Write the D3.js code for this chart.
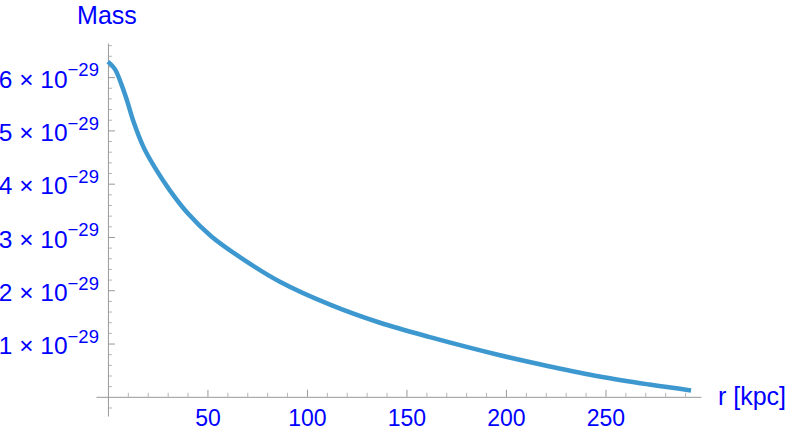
<!DOCTYPE html>
<html>
<head>
<meta charset="utf-8">
<script src="https://cdn.jsdelivr.net/npm/d3@7"></script>
<style>
body { margin: 0; background: #fff; }
svg text { font-family: "Liberation Sans", Arial, sans-serif; fill: #0000ff; }
</style>
</head>
<body>
<svg class="mySVG" width="793" height="436"></svg>
<script>
// radius in kpc, mass in units of 1e-29
var radius = [0, 3.5, 7, 9.5, 12.7, 17.7, 23.6, 31, 40, 52, 68, 86.4, 111.6, 136.7, 161.8, 197, 222, 247, 272, 293];
var mass = [6.29, 6.15, 5.84, 5.57, 5.18, 4.70, 4.30, 3.88, 3.45, 3.01, 2.58, 2.16, 1.73, 1.39, 1.12, 0.78, 0.57, 0.38, 0.23, 0.12];

var xTicks = [50, 100, 150, 200, 250];
var yTicks = [1, 2, 3, 4, 5, 6];
var yExponent = "\u221229";
var xLabel = "r [kpc]", yLabel = "Mass";

var svg = d3.select('.mySVG');

var x = d3.scaleLinear().domain([-6, 298]).range([96, 701]);
var y = d3.scaleLinear().domain([-0.36, 6.64]).range([416, 43]);

var xMinor = d3.range(10, 295, 10).filter(d => d % 50 !== 0);
var yMinor = d3.range(-0.2, 6.7, 0.2).filter(d => Math.abs(d - Math.round(d)) > 0.05);

const axisColor = "#999";

// x axis: minor ticks
svg.append("g")
    .attr("transform", `translate(0,${y(0)})`)
    .call(d3.axisBottom(x).tickValues(xMinor).tickFormat("").tickSizeInner(-4).tickSizeOuter(0))
    .call(g => g.select(".domain").remove())
    .call(g => g.selectAll(".tick line").attr("stroke", "#b5b5b5"));

// x axis: major ticks + labels
svg.append("g")
    .attr("transform", `translate(0,${y(0)})`)
    .call(d3.axisBottom(x).tickValues(xTicks).tickSizeInner(-7).tickSizeOuter(0).tickPadding(13))
    .call(g => g.select(".domain").attr("stroke", axisColor))
    .call(g => g.selectAll(".tick line").attr("stroke", axisColor))
    .call(g => g.selectAll(".tick text").attr("font-size", 23).attr("fill", "#0000ff"));

// y axis: minor ticks
svg.append("g")
    .attr("transform", `translate(${x(0)},0)`)
    .call(d3.axisLeft(y).tickValues(yMinor).tickFormat("").tickSizeInner(-4).tickSizeOuter(0))
    .call(g => g.select(".domain").remove())
    .call(g => g.selectAll(".tick line").attr("stroke", "#b5b5b5"));

// y axis: major ticks + labels
svg.append("g")
    .attr("transform", `translate(${x(0)},0)`)
    .call(d3.axisLeft(y).tickValues(yTicks).tickSizeInner(-7).tickSizeOuter(0).tickPadding(9).tickFormat(""))
    .call(g => g.select(".domain").attr("stroke", axisColor))
    .call(g => g.selectAll(".tick line").attr("stroke", axisColor))
    .call(g => g.selectAll(".tick text").each(function(d) {
        const t = d3.select(this).attr("dy", "0.42em").attr("font-size", 24.5).attr("fill", "#0000ff");
        t.append("tspan").text(d + " \u00d7 10");
        t.append("tspan").attr("font-size", 18.5).attr("dy", "-0.62em").text(yExponent);
    }));

// curve
var line = d3.line()
    .x((d, i) => x(radius[i]))
    .y(d => y(d))
    .curve(d3.curveCatmullRom.alpha(0.5));

svg.append("path")
    .datum(mass)
    .attr("fill", "none")
    .attr("stroke", "#3d98d0")
    .attr("stroke-width", 4.5)
    .attr("d", line);

// axis labels
svg.append("text")
    .attr("x", x(0) - 1)
    .attr("y", 24)
    .attr("text-anchor", "middle")
    .attr("font-size", 25)
    .text(yLabel);

svg.append("text")
    .attr("x", 718)
    .attr("y", y(0) + 8)
    .attr("font-size", 25)
    .text(xLabel);
</script>
</body>
</html>
